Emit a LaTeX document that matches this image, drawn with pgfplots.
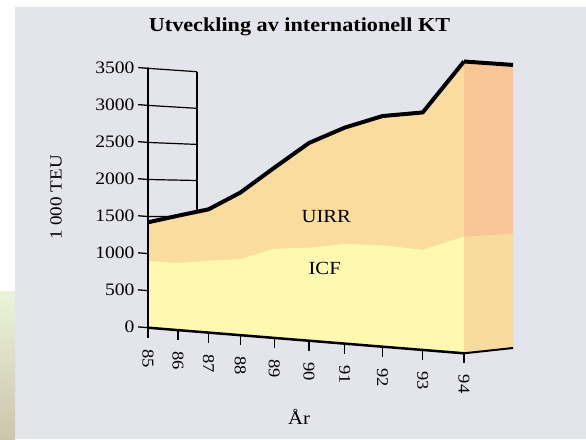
\documentclass[border=0pt]{standalone}
\usepackage{fontspec}
\setmainfont{Liberation Serif}[FakeStretch=1.12]
\usepackage{pgfplots}
\usepackage{pgfplotstable}
\pgfplotsset{compat=1.18}
\definecolor{bg}{RGB}{228,228,236}
\definecolor{uirrc}{RGB}{250,221,158}
\definecolor{icfc}{RGB}{255,248,176}
\definecolor{sideup}{RGB}{248,198,148}
\definecolor{sidelow}{RGB}{249,219,157}

% front face: x positions follow the (perspective) spacing of the years
\pgfplotstableread{
year xpos icf uirr
85 0 900 522
86 30 906 638
87 60.6 970 694
88 92.2 1028 895
89 126.4 1205 1093
90 161 1256 1413
91 196.7 1345 1570
92 234.6 1368 1745
93 274.7 1350 1855
94 316 1574 2364
}\data
% right side face
\pgfplotstableread{
xpos low mid top
316 0 1574 3938
365 125 1668 3945
}\side

\begin{document}
\begin{tikzpicture}[x=1pt,y=1pt]
\fill[white] (0,0) rectangle (586,439);
\fill[bg] (15,0) rectangle (586,431.7);
\shade[top color={rgb,255:red,234;green,244;blue,216}, bottom color={rgb,255:red,205;green,196;blue,172}] (0,0) rectangle (15,147);
\node[font=\bfseries\fontsize{19.8}{21}\selectfont, anchor=base] at (299.5,407.5) {Utveckling av internationell KT};
\node[font=\fontsize{17}{17}\selectfont, rotate=90] at (56,241.5) {1 000 TEU};
\node[font=\fontsize{18.5}{18.5}\selectfont, anchor=base] at (299,15) {År};
\begin{axis}[
  at={(148pt,111.3pt)}, anchor=origin,
  x={(1pt,-0.081pt)}, y={(0pt,0.0741pt)},
  xmin=0, xmax=316, ymin=0, ymax=3500,
  axis lines=left,
  axis line style={-, line width=2.5pt, line cap=round},
  clip=false, axis on top,
  xtick={0,30,60.6,92.2,126.4,161,196.7,234.6,274.7,316},
  xticklabels={85,86,87,88,89,90,91,92,93,94},
  ytick={0,500,...,3500},
  tick align=outside, major tick length=10pt,
  tick style={line width=1.3pt, black},
  scaled ticks=false,
  /pgf/number format/1000 sep={},
  /pgf/number format/assume math mode=true,
  yticklabel style={font=\fontsize{17.5}{17.5}\selectfont, anchor=east},
  xticklabel shift=8pt,
  xticklabel style={font=\fontsize{16.5}{16.5}\selectfont, rotate=-90, anchor=west},
]
% back wall
\addplot[black, line width=1.5pt] coordinates {(49,0) (49,3508)};
\addplot[black, line width=1.2pt] coordinates {(0,3500) (49,3508)};
\addplot[black, line width=1.2pt] coordinates {(0,3000) (49,3014)};
\addplot[black, line width=1.2pt] coordinates {(0,2500) (49,2527)};
\addplot[black, line width=1.2pt] coordinates {(0,2000) (49,2040)};
\addplot[black, line width=1.2pt] coordinates {(0,1500) (49,1554)};
% front face
\addplot[fill=uirrc, draw=none] table[x=xpos, y expr=\thisrow{icf}+\thisrow{uirr}] {\data} -- (axis cs:316,0) -- (axis cs:0,0) -- cycle;
\addplot[fill=icfc, draw=none] table[x=xpos, y=icf] {\data} -- (axis cs:316,0) -- (axis cs:0,0) -- cycle;
% side face
\addplot[fill=sidelow, draw=none] table[x=xpos, y=mid] {\side} -- (axis cs:365,125) -- (axis cs:316,0) -- cycle;
\addplot[fill=sideup, draw=none] table[x=xpos, y=top] {\side} -- (axis cs:365,1668) -- (axis cs:316,1574) -- cycle;
\addplot[black, line width=2pt] table[x=xpos, y=low] {\side};
% total line
\addplot[black, line width=4pt, line join=round] table[x=xpos, y expr=\thisrow{icf}+\thisrow{uirr}] {\data};
\addplot[black, line width=4pt, line join=round] table[x=xpos, y=top] {\side};
\node[font=\fontsize{18.5}{18.5}\selectfont] at (axis cs:178.3,1695) {UIRR};
\node[font=\fontsize{18.5}{18.5}\selectfont] at (axis cs:176.7,999) {ICF};
\end{axis}
\end{tikzpicture}
\end{document}
